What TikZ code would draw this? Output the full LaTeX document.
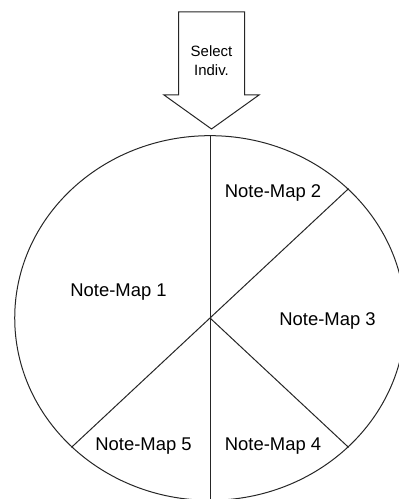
\documentclass[tikz,border=0pt]{standalone}
\usepackage{fontspec}
\setmainfont{Liberation Sans}
\usetikzlibrary{shapes.geometric}

\begin{document}
\begin{tikzpicture}[
    x=1bp, y=1bp,
    outline/.style={draw=black!85, line width=1bp},
    maplabel/.style={font=\fontsize{18.5}{22}\selectfont, anchor=base, inner sep=0pt},
    arrowlabel/.style={font=\fontsize{15}{19}\selectfont, align=center, inner sep=0pt},
]
\useasboundingbox (0,0) rectangle (398,499);

% pie of note-maps
\node[outline, ellipse, minimum width=392, minimum height=366, inner sep=0pt] (map) at (210,181) {};
\coordinate (ne) at ([shift={(45:196 and 183)}]map.center);
\coordinate (se) at ([shift={(-45:196 and 183)}]map.center);
\coordinate (sw) at ([shift={(-135:196 and 183)}]map.center);
\draw[outline] (map.north) -- (map.south);
\foreach \p in {ne,se,sw} {
    \draw[outline] (map.center) -- (\p);
}

\node[maplabel] (nm1) at (118.5,202) {Note-Map 1};
\node[maplabel] (nm2) at (273,301) {Note-Map 2};
\node[maplabel] (nm3) at (327.5,173) {Note-Map 3};
\node[maplabel] (nm4) at (273,48) {Note-Map 4};
\node[maplabel] (nm5) at (143.5,48) {Note-Map 5};

% block arrow into the top
\def\ax{211.5}
\draw[outline, fill=white] (\ax-33,487) -- (\ax+33,487) -- (\ax+33,404) -- (\ax+47.5,404)
    -- (\ax,370) -- (\ax-47.5,404) -- (\ax-33,404) -- cycle;
\node[arrowlabel] (select) at (\ax,438) {Select\\Indiv.};
\end{tikzpicture}
\end{document}
